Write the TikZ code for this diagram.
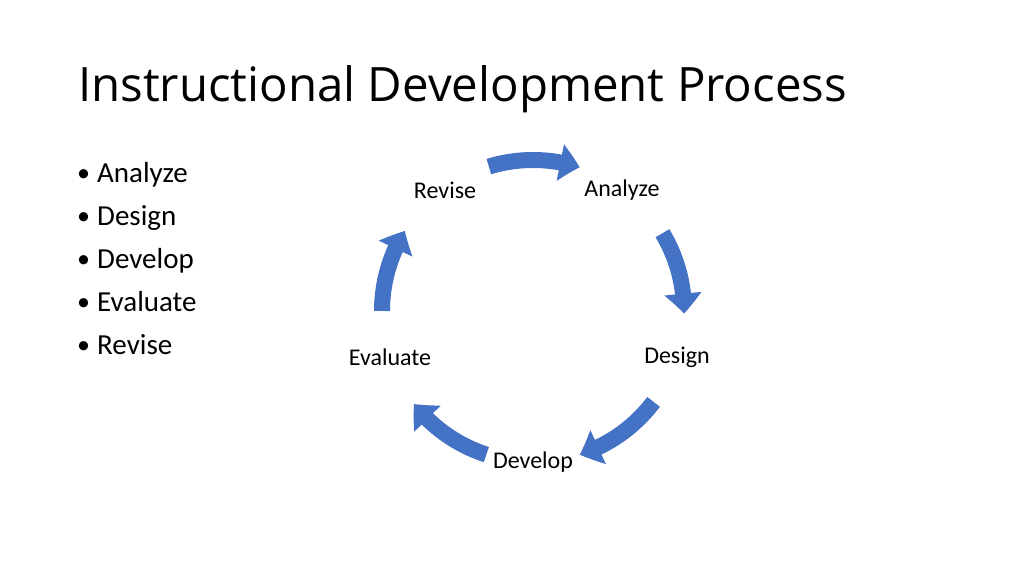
\documentclass[tikz,border=0pt]{standalone}
\usepackage{fontspec}
\setmainfont{Carlito}
\newfontfamily\titlefont{Open Sans}
\usetikzlibrary{arrows.meta,bending,calc}
\definecolor{officeblue}{HTML}{4472C4}
\begin{document}
\begin{tikzpicture}[x=1pt,y=1pt,
  lbl/.style={font=\fontsize{24}{28}\selectfont, inner sep=0pt},
  bul/.style={font=\fontsize{29}{33}\selectfont, anchor=base west, inner sep=0pt},
  cyc/.style={officeblue, line width=16pt, -{Triangle[width=36pt,length=20pt,bend]}}]
\useasboundingbox (0,0) rectangle (1024,575);
\node[anchor=base west, inner sep=0pt, font=\titlefont\fontsize{47.4}{52}\selectfont] (title) at (78,473) {Instructional Development Process};
\foreach \t [count=\i] in {Analyze,Design,Develop,Evaluate,Revise}{
  \node[bul, font=\fontsize{26}{30}\selectfont] (b\i) at (77,{393-43*(\i-1)}) {•};
  \node[bul] (t\i) at (97,{392-43*(\i-1)}) {\t};
}
\coordinate (c) at (533,264);
\node[lbl] (revise) at (445,385) {Revise};
\node[lbl] (analyze) at (622,385) {Analyze};
\node[lbl] (design) at (677,218) {Design};
\node[lbl] (develop) at (533,113) {Develop};
\node[lbl] (evaluate) at (390,218) {Evaluate};
\draw[cyc] ($(c)+(107:151pt)$) arc[start angle=107, end angle=72, radius=151pt];
\draw[cyc] ($(c)+(31:151pt)$) arc[start angle=31, end angle=-1, radius=151pt];
\draw[cyc] ($(c)+(-37:151pt)$) arc[start angle=-37, end angle=-72, radius=151pt];
\draw[cyc] ($(c)+(-108:151pt)$) arc[start angle=-108, end angle=-142, radius=151pt];
\draw[cyc] ($(c)+(180:151pt)$) arc[start angle=180, end angle=148, radius=151pt];
\end{tikzpicture}
\end{document}
